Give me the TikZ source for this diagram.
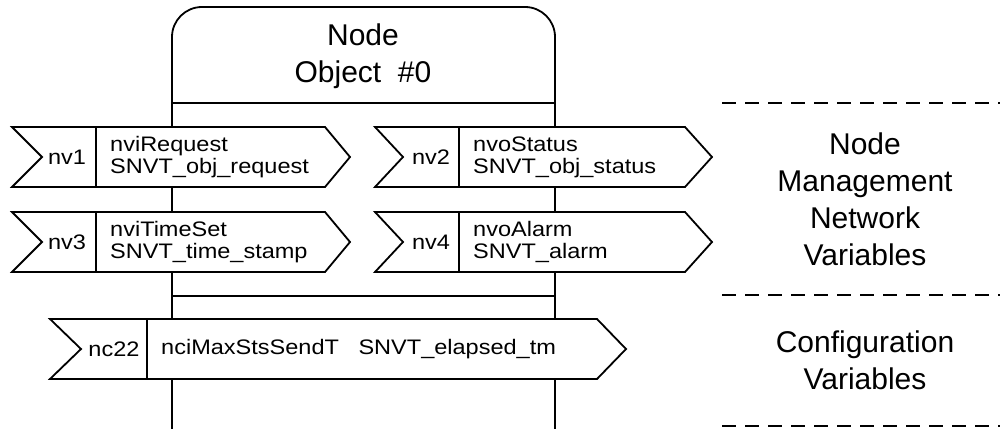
\documentclass[tikz,border=0pt]{standalone}
\usepackage{fontspec}
\setmainfont{Liberation Sans}
\newfontfamily\smallwide[FakeStretch=1.12]{Liberation Sans}
\tikzset{
  ln/.style={line width=1.8pt},
  dashln/.style={line width=1.8pt, dash pattern=on 14pt off 9pt},
  bigtxt/.style={font=\fontsize{30}{37}\selectfont, align=center, inner sep=0pt},
  smalltxt/.style={font=\smallwide\fontsize{21}{22}\selectfont, align=left, anchor=west, inner sep=0pt},
  lbltxt/.style={font=\smallwide\fontsize{21}{22}\selectfont, inner sep=0pt},
}
% #1 left, #2 notch, #3 divider, #4 body right, #5 tip, #6 top, #7 bottom, #8 name
\newcommand\nvbox[8]{%
  \pgfmathsetmacro\midy{(#6+#7)/2}%
  \draw[ln, fill=white, line join=miter] (#1,#6) -- (#4,#6) -- (#5,\midy) -- (#4,#7) -- (#1,#7) -- (#2,\midy) -- cycle;
  \draw[ln] (#3,#6) -- (#3,#7);
  \coordinate (#8lbl) at ({(#2+#3)/2},\midy);
  \coordinate (#8txt) at ({#3+14},\midy);
}
\begin{document}
\begin{tikzpicture}[x=1pt,y=-1pt]
\useasboundingbox (0,0) rectangle (1000,428);
% main node object box
\draw[ln, rounded corners=30pt] (172,440) -- (172,7) -- (555,7) -- (555,440);
\draw[ln] (172,103) -- (555,103);
\draw[ln] (172,296) -- (555,296);
\node[bigtxt] (title) at (363,56) {Node\\Object\ \ \#0};
% network variables
\nvbox{12}{42}{96}{325}{350}{127}{187}{a}
\node[lbltxt] (nv1) at ([xshift=-2pt]albl) {nv1};
\node[smalltxt] (t1) at (atxt) {nviRequest\\SNVT\_obj\_request};
\nvbox{12}{42}{96}{325}{350}{212}{272}{b}
\node[lbltxt] (nv3) at ([xshift=-2pt]blbl) {nv3};
\node[smalltxt] (t3) at (btxt) {nviTimeSet\\SNVT\_time\_stamp};
\nvbox{375}{403}{459}{685}{712}{127}{187}{c}
\node[lbltxt] (nv2) at (clbl) {nv2};
\node[smalltxt] (t2) at (ctxt) {nvoStatus\\SNVT\_obj\_status};
\nvbox{375}{403}{459}{685}{712}{212}{272}{d}
\node[lbltxt] (nv4) at (dlbl) {nv4};
\node[smalltxt] (t4) at (dtxt) {nvoAlarm\\SNVT\_alarm};
\nvbox{50}{81}{147}{597}{626}{319}{379}{e}
\node[lbltxt] (nc22) at (elbl) {nc22};
\node[smalltxt] (t22) at (etxt) {nciMaxStsSendT\ \ \ SNVT\_elapsed\_tm};
% right side sections
\coordinate (d1a) at (722,103); \coordinate (d1b) at (1000,103);
\coordinate (d2a) at (722,295); \coordinate (d2b) at (1000,295);
\coordinate (d3a) at (722,426); \coordinate (d3b) at (1000,426);
\draw[dashln] (d1a) -- (d1b);
\draw[dashln] (d2a) -- (d2b);
\draw[dashln] (d3a) -- (d3b);
\node[bigtxt] (nmnv) at (865,199) {Node\\Management\\Network\\Variables};
\node[bigtxt] (cfg) at (865,360) {Configuration\\Variables};
\end{tikzpicture}
\end{document}
